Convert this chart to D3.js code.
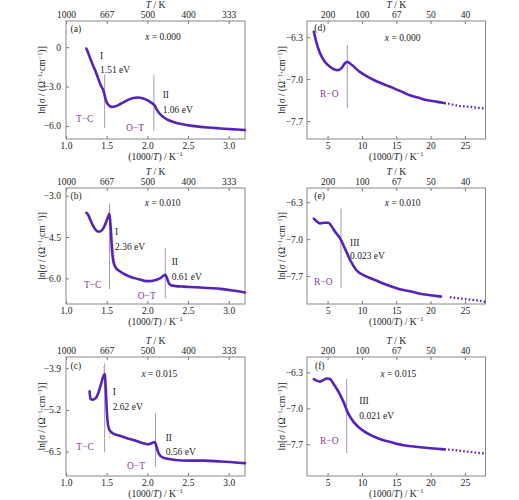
<!DOCTYPE html>
<html>
<head>
<meta charset="utf-8">
<script src="https://cdn.jsdelivr.net/npm/d3@7"></script>
<style>
  body { margin: 0; background: #fff; }
  text { font-family: "Liberation Serif", "Times New Roman", serif; fill: #222; }
</style>
</head>
<body>
<svg id="chart" width="519" height="500"></svg>
<script>
// tick values / labels
const leftTicks = [1.0, 1.5, 2.0, 2.5, 3.0];
const leftTopLabels = ["1000", "667", "500", "400", "333"];
const rightTicks = [5, 10, 15, 20, 25];
const rightTopLabels = ["200", "100", "67", "50", "40"];

// (a) x = 0.000
const aX = [1.25,1.28,1.31,1.34,1.37,1.40,1.42,1.44,1.46,1.48,1.50,1.53,1.56,1.60,1.65,1.70,1.75,1.80,1.85,1.89,1.93,1.97,2.01,2.04,2.07,2.09,2.11,2.14,2.18,2.24,2.32,2.42,2.55,2.70,2.85,3.00,3.10,3.20];
const aY = [-0.1,-0.55,-1.05,-1.5,-1.95,-2.45,-2.8,-3.05,-3.3,-3.8,-4.2,-4.45,-4.55,-4.52,-4.4,-4.22,-4.05,-3.92,-3.85,-3.84,-3.88,-3.96,-4.08,-4.2,-4.33,-4.45,-4.7,-4.98,-5.25,-5.5,-5.7,-5.86,-6.0,-6.1,-6.17,-6.24,-6.28,-6.31];
// (b) x = 0.010
const bX = [1.25,1.27,1.30,1.33,1.36,1.39,1.42,1.45,1.48,1.50,1.52,1.535,1.55,1.565,1.58,1.60,1.63,1.67,1.72,1.78,1.85,1.92,1.98,2.03,2.08,2.13,2.17,2.20,2.22,2.24,2.26,2.29,2.35,2.45,2.6,2.75,2.9,3.05,3.2];
const bY = [-3.62,-3.68,-3.88,-4.08,-4.22,-4.3,-4.3,-4.22,-4.05,-3.9,-3.75,-3.66,-4.2,-4.95,-5.35,-5.55,-5.67,-5.76,-5.85,-5.93,-6.0,-6.05,-6.1,-6.1,-6.08,-6.03,-5.97,-5.9,-5.87,-5.98,-6.15,-6.25,-6.28,-6.3,-6.32,-6.35,-6.38,-6.44,-6.51];
// (c) x = 0.015
const cX = [1.29,1.30,1.33,1.37,1.40,1.43,1.455,1.475,1.49,1.50,1.51,1.53,1.57,1.65,1.75,1.85,1.95,2.00,2.05,2.09,2.11,2.13,2.16,2.22,2.35,2.5,2.7,2.9,3.05,3.2];
const cY = [-4.62,-4.85,-4.88,-4.82,-4.65,-4.4,-4.18,-4.08,-4.6,-5.15,-5.55,-5.8,-5.92,-6.0,-6.08,-6.15,-6.24,-6.27,-6.24,-6.2,-6.32,-6.5,-6.63,-6.71,-6.76,-6.78,-6.78,-6.81,-6.83,-6.86];
// (d) x = 0.000, low temperature
const dX = [3.0,3.4,3.9,4.6,5.3,6.0,6.5,7.0,7.5,7.85,8.5,9.7,11,12.2,13.5,14.6,16,17,18.5,19.4,21,22,23,24.3,25.5,27,28];
const dY = [-6.21,-6.4,-6.57,-6.71,-6.79,-6.84,-6.85,-6.82,-6.74,-6.71,-6.76,-6.88,-6.97,-7.04,-7.1,-7.15,-7.22,-7.27,-7.32,-7.35,-7.38,-7.40,-7.42,-7.45,-7.46,-7.48,-7.49];
// (e) x = 0.010, low temperature
const eX = [3.0,3.4,3.9,4.6,5.1,5.6,6.1,6.8,7.5,8.3,9.2,10.7,12,13.1,14.3,15.5,17,18,19.2,20.4,21.5,22.8,24,25.3,26.6,28];
const eY = [-6.61,-6.66,-6.7,-6.69,-6.69,-6.76,-6.86,-6.98,-7.17,-7.4,-7.59,-7.71,-7.78,-7.84,-7.9,-7.95,-7.99,-8.02,-8.05,-8.07,-8.09,-8.1,-8.12,-8.14,-8.16,-8.19];
// (f) x = 0.015, low temperature
const fX = [3.0,3.4,3.9,4.4,4.9,5.35,5.8,6.6,7.3,8.0,8.75,9.7,11.2,12.4,13.6,15,16,17.2,18.5,20,20.9,22,23.3,24.5,25.7,27,28];
const fY = [-6.43,-6.46,-6.48,-6.45,-6.42,-6.43,-6.51,-6.68,-6.87,-7.1,-7.26,-7.39,-7.52,-7.59,-7.64,-7.69,-7.72,-7.74,-7.76,-7.78,-7.79,-7.80,-7.81,-7.83,-7.85,-7.87,-7.88];

// transition markers: [x, yFrom, yTo]
const aMarks = [[1.475, -2.1, -6.15], [2.08, -2.1, -6.4]];
const bMarks = [[1.535, -3.28, -6.39], [2.22, -4.91, -6.73]];
const cMarks = [[1.475, -3.75, -6.52], [2.10, -5.31, -6.97]];
const dMarks = [[7.87, -6.43, -7.49]];
const eMarks = [[6.95, -6.42, -7.92]];
const fMarks = [[7.78, -6.43, -7.87]];
// fitted slopes (orange)
const bFit = [[1.54, -3.75], [1.615, -5.75]];
const cFit = [[1.463, -3.85], [1.537, -6.14]];

const svg = d3.select("#chart");
const curveColor = "#5522bb";
const markColor = "#a996bb";
const phaseColor = "#8a3a9e";

const panels = [
  { id: "(a)", comp: "0.000", xs: aX, ys: aY, marks: aMarks, fit: null, side: "L",
    top: 21, bottom: 139, yDomain: [-7, 2], yTicks: [0, -3, -6], yFmt: d => d === 0 ? "0" : d3.format(".1f")(d),
    notes: [["(a)",4.5,10.5,"s","k"],["I",34,37.5,"s","k"],["1.51 eV",34,51.5,"s","k"],["II",96.7,76.5,"s","k"],["1.06 eV",96.7,91.5,"s","k"],["T−C",18.7,100.5,"m","p"],["O−T",69,110,"m","p"]],
    compPos: [97, 19] },
  { id: "(b)", comp: "0.010", xs: bX, ys: bY, marks: bMarks, fit: bFit, side: "L",
    top: 188, bottom: 304, yDomain: [-6.93, -2.72], yTicks: [-3, -4.5, -6], yFmt: d3.format(".1f"),
    notes: [["(b)",4.5,10.5,"s","k"],["I",49,47,"s","k"],["2.36 eV",49,61.5,"s","k"],["II",105.7,77,"s","k"],["0.61 eV",105.7,91.5,"s","k"],["T−C",26.7,99.5,"m","p"],["O−T",80.7,111,"m","p"]],
    compPos: [96.7, 18] },
  { id: "(c)", comp: "0.015", xs: cX, ys: cY, marks: cMarks, fit: cFit, side: "L",
    top: 357, bottom: 476, yDomain: [-7.26, -3.55], yTicks: [-3.9, -5.2, -6.5], yFmt: d3.format(".1f"),
    notes: [["(c)",4.5,11.5,"s","k"],["I",46.7,38,"s","k"],["2.62 eV",46.7,53,"s","k"],["II",99.7,84,"s","k"],["0.56 eV",99.7,98,"s","k"],["T−C",19,93,"m","p"],["O−T",70,112,"m","p"]],
    compPos: [93.3, 19.8] },
  { id: "(d)", comp: "0.000", xs: dX, ys: dY, marks: dMarks, fit: null, side: "R",
    top: 21, bottom: 139, yDomain: [-8.0, -6.03], yTicks: [-6.3, -7.0, -7.7], yFmt: d3.format(".1f"),
    notes: [["(d)",7.3,9.8,"s","k"],["R−O",22.3,75.8,"m","p"]],
    compPos: [95.7, 19.8] },
  { id: "(e)", comp: "0.010", xs: eX, ys: eY, marks: eMarks, fit: null, side: "R",
    top: 188, bottom: 304, yDomain: [-8.23, -6.03], yTicks: [-6.3, -7.0, -7.7], yFmt: d3.format(".1f"),
    notes: [["(e)",7.3,10.5,"s","k"],["III",43,57.8,"s","k"],["0.023 eV",43,71.2,"s","k"],["R−O",16.3,97.2,"m","p"]],
    compPos: [95.7, 18] },
  { id: "(f)", comp: "0.015", xs: fX, ys: fY, marks: fMarks, fit: null, side: "R",
    top: 357, bottom: 476, yDomain: [-8.32, -6.0], yTicks: [-6.3, -7.0, -7.7], yFmt: d3.format(".1f"),
    notes: [["(f)",8,11.5,"s","k"],["III",52.3,47.2,"s","k"],["0.021 eV",52.3,61.5,"s","k"],["R−O",22.3,86.5,"m","p"]],
    compPos: [91.3, 19.8] }
];

const fs = 9.5;

panels.forEach(p => {
  const left = p.side === "L" ? 66 : 307;
  const right = p.side === "L" ? 245 : 485.5;
  const xDomain = p.side === "L" ? [1.0, 3.2] : [2, 28];
  const ticks = p.side === "L" ? leftTicks : rightTicks;
  const topLabels = p.side === "L" ? leftTopLabels : rightTopLabels;

  const x = d3.scaleLinear().domain(xDomain).range([left, right]);
  const y = d3.scaleLinear().domain(p.yDomain).range([p.bottom, p.top]);
  const g = svg.append("g");

  // bottom axis
  const gb = g.append("g").attr("transform", `translate(0,${p.bottom})`)
    .call(d3.axisBottom(x).tickValues(ticks).tickSizeInner(-3).tickSizeOuter(0).tickPadding(3)
      .tickFormat(p.side === "L" ? d3.format(".1f") : d3.format("d")));
  // top axis (temperature)
  const gt = g.append("g").attr("transform", `translate(0,${p.top})`)
    .call(d3.axisTop(x).tickValues(ticks).tickSizeInner(-3).tickSizeOuter(0).tickPadding(3)
      .tickFormat((d, i) => topLabels[i]));
  // left axis
  const gl = g.append("g").attr("transform", `translate(${left},0)`)
    .call(d3.axisLeft(y).tickValues(p.yTicks).tickSizeInner(-3).tickSizeOuter(0).tickPadding(p.side === "L" ? 5 : 4)
      .tickFormat(d => p.yFmt(d).replace("-", "−")));
  [gb, gt, gl].forEach(a => {
    a.select(".domain").remove();
    a.selectAll("line").attr("stroke", "#777");
    a.selectAll("text").attr("font-size", fs).attr("fill", "#222")
      .attr("font-family", '"Liberation Serif", serif');
  });

  // frame
  g.append("rect").attr("x", left).attr("y", p.top)
    .attr("width", right - left).attr("height", p.bottom - p.top)
    .attr("fill", "none").attr("stroke", "#888").attr("stroke-width", 1);

  // axis titles
  const cx = (left + right) / 2;
  const tt = g.append("text").attr("x", cx).attr("y", p.top - 13)
    .attr("text-anchor", "middle").attr("font-size", fs);
  tt.append("tspan").attr("font-style", "italic").text("T");
  tt.append("tspan").text(" / K");

  const bt = g.append("text").attr("x", cx).attr("y", p.bottom + 20.5)
    .attr("text-anchor", "middle").attr("font-size", fs);
  bt.append("tspan").text("(1000/");
  bt.append("tspan").attr("font-style", "italic").text("T");
  bt.append("tspan").text(") / K");
  bt.append("tspan").attr("font-size", 6.5).attr("dy", -3.5).text("−1");

  const ly = (p.top + p.bottom) / 2;
  const lx = p.side === "L" ? 45 : 285;
  const yt = g.append("text").attr("transform", `translate(${lx},${ly}) rotate(-90)`)
    .attr("text-anchor", "middle").attr("font-size", fs);
  yt.append("tspan").text("ln[");
  yt.append("tspan").attr("font-style", "italic").text("σ");
  yt.append("tspan").text(" / (Ω");
  yt.append("tspan").attr("font-size", 6.5).attr("dy", -3.5).text("−1");
  yt.append("tspan").attr("dy", 3.5).text("·cm");
  yt.append("tspan").attr("font-size", 6.5).attr("dy", -3.5).text("−1");
  yt.append("tspan").attr("dy", 3.5).text(")]");

  // transition markers
  g.selectAll(".mark").data(p.marks).enter().append("line")
    .attr("x1", d => x(d[0])).attr("x2", d => x(d[0]))
    .attr("y1", d => y(d[1])).attr("y2", d => y(d[2]))
    .attr("stroke", markColor).attr("stroke-width", 1);

  if (p.fit) {
    g.append("line")
      .attr("x1", x(p.fit[0][0])).attr("y1", y(p.fit[0][1]))
      .attr("x2", x(p.fit[1][0])).attr("y2", y(p.fit[1][1]))
      .attr("stroke", "#f0a848").attr("stroke-width", 1).attr("stroke-dasharray", "2,1.5");
  }

  // data curve
  const pts = p.xs.map((v, i) => [v, p.ys[i]]);
  const line = d3.line().x(d => x(d[0])).y(d => y(d[1])).curve(d3.curveMonotoneX);
  if (p.side === "L") {
    g.append("path").attr("d", line(pts)).attr("fill", "none")
      .attr("stroke", curveColor).attr("stroke-width", 2.6).attr("stroke-linecap", "round");
  } else {
    const solid = pts.filter(d => d[0] <= 22);
    const dotted = pts.filter(d => d[0] >= 22);
    g.append("path").attr("d", line(solid)).attr("fill", "none")
      .attr("stroke", curveColor).attr("stroke-width", 2.6).attr("stroke-linecap", "round");
    g.append("path").attr("d", line(dotted)).attr("fill", "none")
      .attr("stroke", curveColor).attr("stroke-width", 2.2).attr("stroke-dasharray", "1.6,2.2");
  }

  // annotations
  p.notes.forEach(n => {
    g.append("text").attr("x", left + n[1]).attr("y", p.top + n[2])
      .attr("text-anchor", n[3] === "m" ? "middle" : "start")
      .attr("font-size", fs)
      .style("fill", n[4] === "p" ? phaseColor : "#222")
      .text(n[0]);
  });
  const ct = g.append("text").attr("x", left + p.compPos[0]).attr("y", p.top + p.compPos[1])
    .attr("text-anchor", "middle").attr("font-size", fs);
  ct.append("tspan").attr("font-style", "italic").text("x");
  ct.append("tspan").text(" = " + p.comp);
});
</script>
</body>
</html>
